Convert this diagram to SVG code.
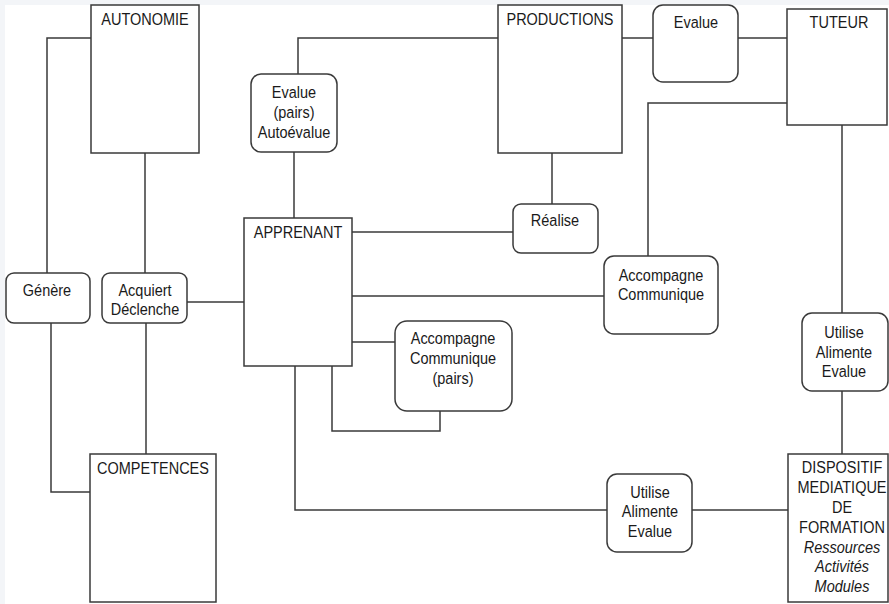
<svg xmlns="http://www.w3.org/2000/svg" width="889" height="604" viewBox="0 0 889 604">
<style>
.bg{fill:#f3f5f8}
.box{fill:#ffffff;stroke:#3a3a3a;stroke-width:1.5}
.c{fill:none;stroke:#3a3a3a;stroke-width:1.5}
text{font-family:"Liberation Sans",Arial,sans-serif;font-size:14.5px;fill:#1a1a1a;text-anchor:middle;transform-box:fill-box;transform-origin:center;transform:scaleY(1.18)}
.i{font-style:italic}
</style>
<rect class="bg" x="0" y="0" width="889" height="604"/>
<rect x="5" y="5" width="884" height="599" fill="#ffffff"/>
<g id="connectors">
<polyline class="c" points="91,38 47,38 47,273"/>
<line class="c" x1="145" y1="153" x2="145" y2="273"/>
<polyline class="c" points="51,323 51,492 90,492"/>
<line class="c" x1="146" y1="323" x2="146" y2="454"/>
<line class="c" x1="187" y1="302" x2="244" y2="302"/>
<polyline class="c" points="298,74 298,38 498,38"/>
<line class="c" x1="294" y1="152" x2="294" y2="218"/>
<line class="c" x1="622" y1="38" x2="653" y2="38"/>
<line class="c" x1="738" y1="38" x2="787" y2="38"/>
<polyline class="c" points="787,103 648,103 648,256"/>
<line class="c" x1="552" y1="153" x2="552" y2="204"/>
<line class="c" x1="352" y1="232" x2="513" y2="232"/>
<line class="c" x1="352" y1="296" x2="604" y2="296"/>
<line class="c" x1="842" y1="125" x2="842" y2="313"/>
<line class="c" x1="842" y1="391" x2="842" y2="454"/>
<line class="c" x1="352" y1="342" x2="395" y2="342"/>
<polyline class="c" points="332,366 332,431 440,431 440,411"/>
<polyline class="c" points="295,366 295,510 607,510"/>
<line class="c" x1="692" y1="510" x2="788" y2="510"/>
</g>
<g id="autonomie">
<rect class="box" x="91" y="5" width="108" height="148"/>
<text x="145" y="24">AUTONOMIE</text>
</g>
<g id="competences">
<rect class="box" x="90" y="454" width="126" height="148"/>
<text x="153" y="473">COMPETENCES</text>
</g>
<g id="apprenant">
<rect class="box" x="244" y="218" width="108" height="148"/>
<text x="298" y="237">APPRENANT</text>
</g>
<g id="productions">
<rect class="box" x="498" y="5" width="124" height="148"/>
<text x="560" y="24">PRODUCTIONS</text>
</g>
<g id="tuteur">
<rect class="box" x="787" y="9" width="100" height="116"/>
<text x="839" y="27">TUTEUR</text>
</g>
<g id="dispositif">
<rect class="box" x="788" y="454" width="100" height="148"/>
<text x="842" y="472">DISPOSITIF</text>
<text x="842" y="492">MEDIATIQUE</text>
<text x="842" y="512">DE</text>
<text x="842" y="532">FORMATION</text>
<text x="842" y="552" class="i">Ressources</text>
<text x="842" y="571" class="i">Activités</text>
<text x="842" y="591" class="i">Modules</text>
</g>
<g id="genere">
<rect class="box" x="6" y="273" width="84" height="50" rx="8"/>
<text x="47" y="295">Génère</text>
</g>
<g id="acquiert">
<rect class="box" x="102" y="273" width="85" height="50" rx="8"/>
<text x="145" y="295">Acquiert</text>
<text x="145" y="314">Déclenche</text>
</g>
<g id="evalue-pairs">
<rect class="box" x="251" y="74" width="86" height="78" rx="10"/>
<text x="294" y="97">Evalue</text>
<text x="294" y="117">(pairs)</text>
<text x="294" y="137">Autoévalue</text>
</g>
<g id="evalue-tuteur">
<rect class="box" x="653" y="5" width="85" height="77" rx="10"/>
<text x="696" y="27">Evalue</text>
</g>
<g id="realise">
<rect class="box" x="513" y="204" width="85" height="49" rx="8"/>
<text x="555" y="225">Réalise</text>
</g>
<g id="accompagne-tuteur">
<rect class="box" x="604" y="256" width="114" height="78" rx="10"/>
<text x="661" y="280">Accompagne</text>
<text x="661" y="299">Communique</text>
</g>
<g id="accompagne-pairs">
<rect class="box" x="395" y="321" width="117" height="90" rx="12"/>
<text x="453" y="343">Accompagne</text>
<text x="453" y="363">Communique</text>
<text x="453" y="383">(pairs)</text>
</g>
<g id="utilise-tuteur">
<rect class="box" x="802" y="313" width="86" height="78" rx="10"/>
<text x="844" y="337">Utilise</text>
<text x="844" y="357">Alimente</text>
<text x="844" y="376">Evalue</text>
</g>
<g id="utilise-apprenant">
<rect class="box" x="607" y="474" width="85" height="78" rx="10"/>
<text x="650" y="497">Utilise</text>
<text x="650" y="516">Alimente</text>
<text x="650" y="536">Evalue</text>
</g>
</svg>
